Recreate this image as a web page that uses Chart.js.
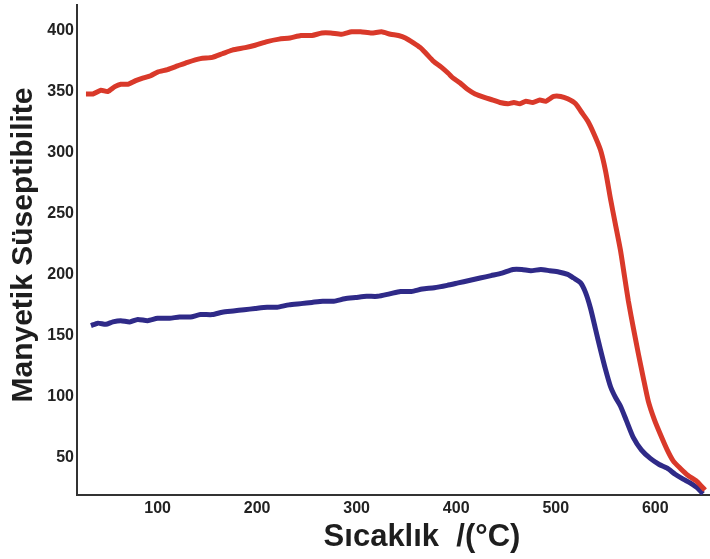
<!DOCTYPE html>
<html>
<head>
<meta charset="utf-8">
<script src="https://cdn.jsdelivr.net/npm/chart.js@4.4.1/dist/chart.umd.min.js"></script>
<style>
  html, body { margin: 0; padding: 0; background: #fff; }
  #wrap { width: 710px; height: 559px; position: relative; }
</style>
</head>
<body>
<div id="wrap"><canvas id="chart"></canvas></div>
<script>
const xTicks = [100, 200, 300, 400, 500, 600];
const yTicks = [50, 100, 150, 200, 250, 300, 350, 400];

const redTemp = [28, 35, 43, 50, 57, 63, 70, 78, 85, 93, 100, 110, 120, 130, 143, 155, 165, 175, 188, 198,
    210, 222, 233, 244, 255, 265, 274, 285, 295, 304, 315, 325, 334, 342, 349, 357, 364, 370, 377, 385,
    392, 397, 404, 411, 419, 429, 437, 444, 452, 458, 464, 470, 477, 484, 490, 498, 505, 512, 520, 526,
    532, 538, 545, 550, 555, 560, 565, 569, 573, 578, 583, 588, 593, 599, 605, 612, 618, 625, 633, 642, 650];
const redValues = [348, 348, 351, 350, 354, 356, 356, 359, 361, 363, 366, 368, 371, 374, 377, 378, 381, 384, 386, 388,
    391, 393, 394, 396, 396, 398, 398, 397, 399, 399, 398, 399, 397, 396, 394, 390, 386, 381, 375, 370,
    365, 361, 357, 352, 348, 345, 343, 341, 340, 341, 340, 342, 341, 343, 342, 346, 346, 344, 340, 333,
    326, 316, 302, 285, 262, 241, 220, 199, 178, 156, 135, 115, 96, 81, 69, 56, 47, 41, 35, 30, 23];

const blueTemp = [33, 40, 48, 55, 63, 72, 80, 90, 100, 112, 122, 133, 143, 155, 165, 176, 187, 198, 210, 220,
    232, 244, 255, 266, 277, 288, 299, 310, 321, 333, 344, 355, 366, 378, 391, 402, 413, 424, 435, 446,
    457, 466, 475, 485, 494, 503, 512, 518, 525, 530, 535, 540, 545, 550, 555, 560, 565, 571, 578, 586,
    595, 604, 612, 620, 628, 635, 642, 648];
const blueValues = [158, 160, 159, 161, 162, 161, 163, 162, 164, 164, 165, 165, 167, 167, 169, 170, 171, 172, 173, 173,
    175, 176, 177, 178, 178, 180, 181, 182, 182, 184, 186, 186, 188, 189, 191, 193, 195, 197, 199, 201,
    204, 204, 203, 204, 203, 202, 200, 197, 193, 185, 172, 155, 138, 122, 108, 99, 92, 80, 66, 56,
    49, 44, 41, 36, 32, 29, 25, 20];

const toPoints = (xs, ys) => xs.map((x, i) => ({ x: x, y: ys[i] }));

const fontFamily = '"Liberation Sans", Arial, sans-serif';

// both axis titles are placed by hand: the x title sits right of centre in the original
const axisTitlePlugin = {
    id: 'axisTitles',
    afterDraw(chart) {
        const { ctx, chartArea } = chart;
        ctx.save();
        ctx.fillStyle = '#1e1e1e';
        ctx.textAlign = 'center';
        ctx.textBaseline = 'middle';

        ctx.font = `bold 31px ${fontFamily}`;
        ctx.fillText('Sıcaklık  /(°C)', chartArea.left + (chartArea.right - chartArea.left) * 0.545, 537);

        ctx.font = `bold 30px ${fontFamily}`;
        ctx.translate(24, 245);
        ctx.rotate(-Math.PI / 2);
        ctx.fillText('Manyetik Süseptibilite', 0, 0);
        ctx.restore();
    }
};

new Chart(document.getElementById('chart'), {
    type: 'line',
    data: {
        datasets: [
            {
                data: toPoints(redTemp, redValues),
                borderColor: '#d9392a',
                borderWidth: 5,
                pointRadius: 0,
                tension: 0.2,
            },
            {
                data: toPoints(blueTemp, blueValues),
                borderColor: '#2f2a88',
                borderWidth: 5,
                pointRadius: 0,
                tension: 0.2,
            }
        ]
    },
    options: {
        responsive: true,
        maintainAspectRatio: false,
        animation: false,
        layout: { padding: { top: 5, right: 0, left: 0, bottom: 0 } },
        plugins: {
            legend: { display: false },
            tooltip: { enabled: false }
        },
        scales: {
            x: {
                type: 'linear',
                min: 19,
                max: 655,
                afterBuildTicks: scale => { scale.ticks = xTicks.map(v => ({ value: v })); },
                afterFit: scale => { scale.height = 64; scale.paddingLeft = 0; scale.paddingRight = 0; },
                grid: { display: false, drawTicks: false },
                border: { display: true, color: '#333', width: 2 },
                ticks: {
                    padding: 4,
                    color: '#222',
                    font: { family: fontFamily, size: 16, weight: 'bold' },
                    maxRotation: 0
                }
            },
            y: {
                min: 19,
                max: 421,
                afterBuildTicks: scale => { scale.ticks = yTicks.map(v => ({ value: v })); },
                afterFit: scale => { scale.width = 77; scale.paddingTop = 0; scale.paddingBottom = 0; },
                grid: { display: false, drawTicks: false },
                border: { display: true, color: '#333', width: 2 },
                ticks: {
                    padding: 3,
                    color: '#222',
                    font: { family: fontFamily, size: 16, weight: 'bold' }
                }
            }
        }
    },
    plugins: [axisTitlePlugin]
});
</script>
</body>
</html>
